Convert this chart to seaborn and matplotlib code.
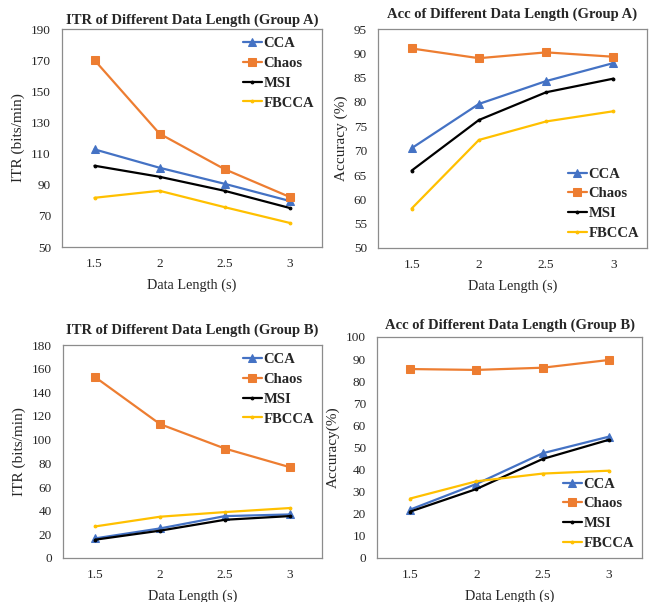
import matplotlib
matplotlib.use("Agg")
import matplotlib.pyplot as plt
import seaborn as sns
import pandas as pd

sns.set_theme(style="white")
plt.rcParams['font.family'] = ['Liberation Serif', 'DejaVu Serif']

data_lengths = ["1.5", "2", "2.5", "3"]
methods = ["CCA", "Chaos", "MSI", "FBCCA"]

itr_a = {
    "CCA":   [112.7, 100.9, 90.6, 79.6],
    "Chaos": [170.0, 122.8, 100.0, 82.2],
    "MSI":   [102.2, 95.1, 86.1, 75.1],
    "FBCCA": [81.6, 86.1, 75.6, 65.5],
}
acc_a = {
    "CCA":   [70.5, 79.6, 84.3, 88.0],
    "Chaos": [91.0, 89.0, 90.2, 89.3],
    "MSI":   [65.9, 76.3, 82.0, 84.8],
    "FBCCA": [58.1, 72.2, 76.0, 78.1],
}
itr_b = {
    "CCA":   [16.6, 25.0, 35.4, 36.8],
    "Chaos": [152.7, 113.1, 92.5, 76.8],
    "MSI":   [15.5, 23.1, 32.3, 35.4],
    "FBCCA": [26.7, 34.9, 38.8, 42.2],
}
acc_b = {
    "CCA":   [21.9, 33.5, 47.4, 54.9],
    "Chaos": [85.5, 85.1, 86.1, 89.6],
    "MSI":   [21.0, 31.2, 44.8, 53.5],
    "FBCCA": [26.9, 34.7, 38.2, 39.5],
}

colors = {"CCA": "#4472C4", "Chaos": "#ED7D31", "MSI": "#000000", "FBCCA": "#FFC000"}
markers = {"CCA": "^", "Chaos": "s", "MSI": ".", "FBCCA": "."}
msizes = {"CCA": 6, "Chaos": 5.5, "MSI": 4, "FBCCA": 4}

W, H = 656, 602
fig = plt.figure(figsize=(W / 100, H / 100), dpi=100)


def box(l, t, r, b):
    return [l / W, 1 - b / H, (r - l) / W, (b - t) / H]


panels = [
    (box(62, 29, 322, 247), itr_a, "ITR of Different Data Length (Group A)",
     "ITR (bits/min)", (50, 190), list(range(50, 191, 20)), "upper right", 4),
    (box(378, 29, 647, 248), acc_a, "Acc of Different Data Length (Group A)",
     "Accuracy (%)", (50, 95), list(range(50, 96, 5)), "lower right", 8),
    (box(63, 345, 322, 558), itr_b, "ITR of Different Data Length (Group B)",
     "ITR (bits/min)", (0, 180), list(range(0, 181, 20)), "upper right", 8),
    (box(377, 337, 642, 558), acc_b, "Acc of Different Data Length (Group B)",
     "Accuracy(%)", (0, 100), list(range(0, 101, 10)), "lower right", 6),
]

for rect, series, title, ylabel, ylim, yticks, loc, tpad in panels:
    ax = fig.add_axes(rect)
    for m in methods:
        df = pd.DataFrame({"len": data_lengths, "val": series[m]})
        sns.lineplot(data=df, x="len", y="val", ax=ax, color=colors[m],
                     marker=markers[m], markersize=msizes[m], linewidth=1.6,
                     markeredgecolor=colors[m], label=m, sort=False)
    ax.set_xlim(-0.5, 3.5)
    ax.set_ylim(*ylim)
    ax.set_yticks(yticks)
    ax.set_title(title, fontsize=10.5, fontweight="bold", pad=tpad)
    ax.set_xlabel("Data Length (s)", fontsize=10.3, labelpad=6)
    ax.set_ylabel(ylabel, fontsize=11, labelpad=4)
    ax.tick_params(axis="both", labelsize=9.5, length=0, pad=8)
    for s in ax.spines.values():
        s.set_color("#8c8c8c")
        s.set_linewidth(0.9)
    ax.grid(False)
    ax.legend(loc=loc, frameon=False, prop={"weight": "bold", "size": 10.5},
              handlelength=1.3, handletextpad=0.1, labelspacing=0.45,
              borderaxespad=0.15)

fig.savefig("out.png", dpi=100)
